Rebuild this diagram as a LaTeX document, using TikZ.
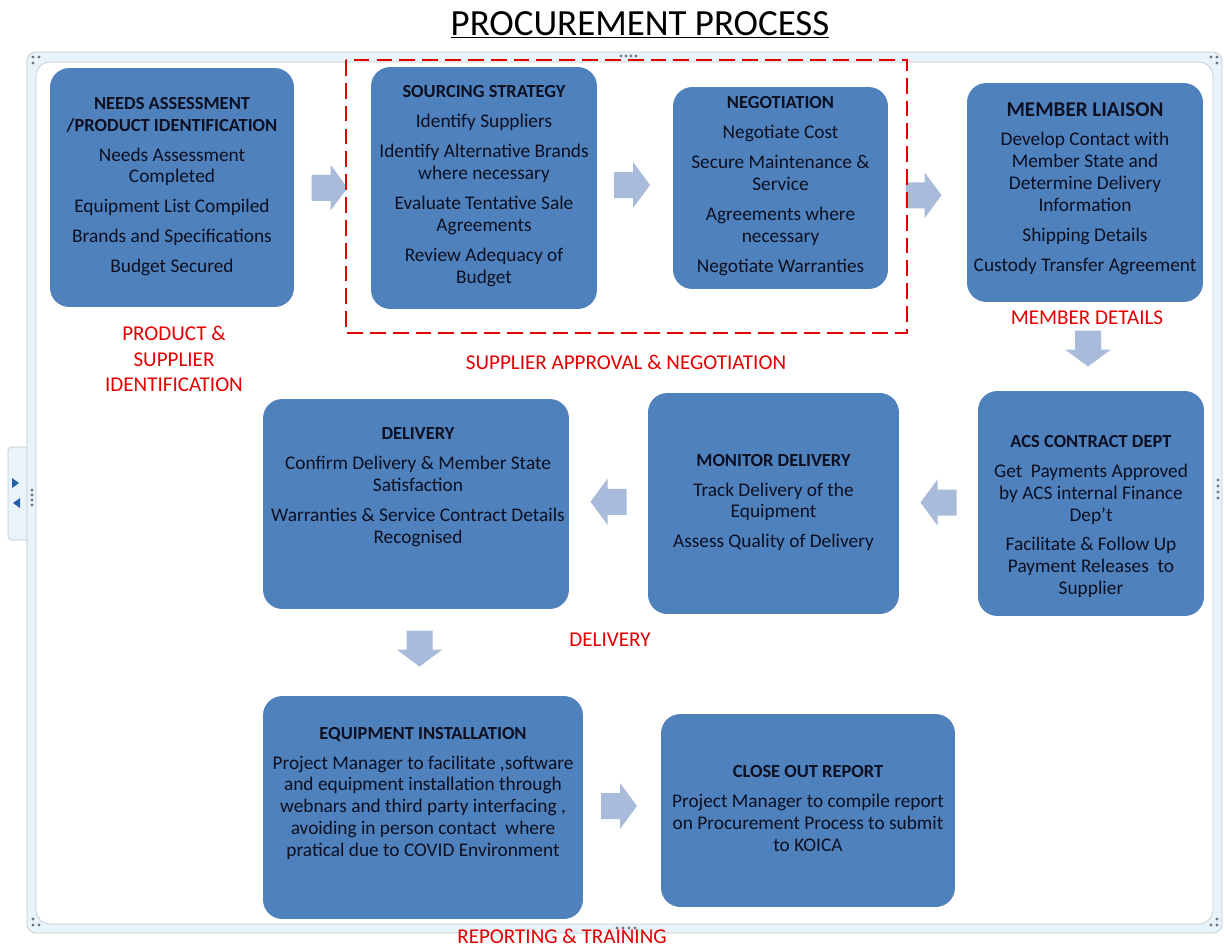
\documentclass[tikz,border=0pt]{standalone}
\usepackage{fontspec}
\setmainfont{Carlito}
\usetikzlibrary{calc}
\definecolor{boxblue}{RGB}{79,129,189}
\definecolor{arrowblue}{RGB}{168,187,218}
\definecolor{labelred}{RGB}{228,0,0}
\definecolor{boxink}{RGB}{12,16,34}
\definecolor{framegray}{RGB}{192,202,210}
\definecolor{framefill}{RGB}{232,244,250}
\definecolor{dotgray}{RGB}{110,118,128}
\definecolor{tabblue}{RGB}{38,96,168}
\def\hd#1{{\fontsize{10.5}{12.5}\selectfont\bfseries #1}}
\def\gap{\\[4.5pt]}
\tikzset{
procbox/.style={rectangle, rounded corners=11pt, fill=boxblue, inner sep=0pt},
boxtext/.style={text=boxink, align=center, inner sep=0pt, font=\fontsize{11}{12.5}\selectfont},
stagelabel/.style={text=labelred, align=center, inner sep=0pt, font=\fontsize{12}{14.7}\selectfont},
pics/blockarrow/.style={code={
\fill[arrowblue] (-18,-13) -- (1,-13) -- (1,-23) -- (18,0) -- (1,23) -- (1,13) -- (-18,13) -- cycle;}}
}

\begin{document}
\begin{tikzpicture}[x=0.02cm, y=-0.02cm]
\useasboundingbox (0,0) rectangle (1224,947);
% frame
\draw[framegray, fill=framefill, rounded corners=2pt] (27,447) -- (8,447) -- (8,540) -- (27,540);
\draw[framegray, fill=framefill, rounded corners=5pt] (27,52) rectangle (1222,933);
\draw[framegray, fill=white, rounded corners=8pt] (36,62) rectangle (1213,924);
\fill[tabblue] (12,478) -- (19,483) -- (12,488) -- cycle;
\fill[tabblue] (20,498) -- (13,503) -- (20,508) -- cycle;
\foreach \p in {(33,57),(39,57),(33,63),(1211,57),(1217,57),(1217,63),
  (1217,919),(1211,925),(1217,925),(33,919),(33,925),(39,925),
  (621,56),(626,56),(631,56),(636,56),(617,928),(623,928),(629,928),(635,928),
  (32,490),(32,495),(32,500),(32,505),(1218,480),(1218,486),(1218,492),(1218,498)}
  \fill[dotgray] \p circle (0.9pt);

\node (title) at (640,25) {\fontsize{21}{25}\selectfont\underline{PROCUREMENT PROCESS}};

% boxes
\node[procbox, minimum width=4.88cm, minimum height=4.78cm] (needs) at (172,187.5) {};
\node[procbox, minimum width=4.52cm, minimum height=4.84cm] (source) at (484,188) {};
\node[procbox, minimum width=4.30cm, minimum height=4.04cm] (nego) at (780.5,188) {};
\node[procbox, minimum width=4.72cm, minimum height=4.38cm] (member) at (1085,192.5) {};
\node[procbox, minimum width=4.52cm, minimum height=4.50cm] (acs) at (1091,503.5) {};
\node[procbox, minimum width=5.02cm, minimum height=4.42cm] (monitor) at (773.5,503.5) {};
\node[procbox, minimum width=6.12cm, minimum height=4.20cm] (deliv) at (416,504) {};
\node[procbox, minimum width=6.40cm, minimum height=4.46cm] (install) at (423,807.5) {};
\node[procbox, minimum width=5.88cm, minimum height=3.86cm] (closeout) at (808,810.5) {};

% box texts
\node[boxtext] (needs-t) at ($(needs)+(0,-1)$) {\hd{NEEDS ASSESSMENT}\\\hd{/PRODUCT IDENTIFICATION}\gap
Needs Assessment\\Completed\gap Equipment List Compiled\gap Brands and Specifications\gap Budget Secured};
\node[boxtext] (source-t) at ($(source)+(0,-2)$) {\hd{SOURCING STRATEGY}\gap Identify Suppliers\gap
Identify Alternative Brands\\where necessary\gap Evaluate Tentative Sale\\Agreements\gap Review Adequacy of\\Budget};
\node[boxtext] (nego-t) at ($(nego)+(0,-2)$) {\hd{NEGOTIATION}\gap Negotiate Cost\gap Secure Maintenance \&\\Service\gap
Agreements where\\necessary\gap Negotiate Warranties};
\node[boxtext] (member-t) at ($(member)+(0,-4)$) {{\fontsize{12}{14}\selectfont\bfseries MEMBER LIAISON}\gap
Develop Contact with\\Member State and\\Determine Delivery\\Information\gap Shipping Details\gap Custody Transfer Agreement};
\node[boxtext] (acs-t) at ($(acs)+(0,13)$) {\hd{ACS CONTRACT DEPT}\gap Get~ Payments Approved\\by ACS internal Finance\\Dep't\gap
Facilitate \& Follow Up\\Payment Releases~ to\\Supplier};
\node[boxtext] (monitor-t) at ($(monitor)+(0,-1)$) {\hd{MONITOR DELIVERY}\gap Track Delivery of the\\Equipment\gap Assess Quality of Delivery};
\node[boxtext] (deliv-t) at ($(deliv)+(2,-17)$) {\hd{DELIVERY}\gap Confirm Delivery \& Member State\\Satisfaction\gap
Warranties \& Service Contract Details\\Recognised};
\node[boxtext] (install-t) at ($(install)+(0,-14)$) {\hd{EQUIPMENT INSTALLATION}\gap Project Manager to facilitate ,software\\
and equipment installation through\\webnars and third party interfacing ,\\avoiding in person contact~ where\\pratical due to COVID Environment};
\node[boxtext] (closeout-t) at ($(closeout)+(0,-2)$) {\hd{CLOSE OUT REPORT}\gap Project Manager to compile report\\
on Procurement Process to submit\\to KOICA};

% block arrows
\pic at ($(needs.east)!.5!(source.west)+(-3,0)$) {blockarrow};
\pic at ($(source.east)!.5!(nego.west)+(-3,-3)$) {blockarrow};
\pic at ($(nego.east)!.5!(member.west)+(-4,5)$) {blockarrow};
\pic[rotate=-90] at ($(member.south)!.5!(acs.north)+(0,2)$) {blockarrow};
\pic[rotate=180] at ($(acs.west)!.5!(monitor.east)+(0,-1)$) {blockarrow};
\pic[rotate=180] at ($(monitor.west)!.5!(deliv.east)+(0,-2)$) {blockarrow};
\pic[rotate=-90] at ($(deliv.south)!.5!(install.north)+(0,-4)$) {blockarrow};
\pic at ($(install.east)!.5!(closeout.west)+(-3,-3)$) {blockarrow};

% stage grouping and labels
\draw[labelred, line width=1.2pt, dash pattern=on 9pt off 4pt] (346,60) rectangle (907,333);
\node[stagelabel] (lbl-product) at (174,359) {PRODUCT \&\\SUPPLIER\\IDENTIFICATION};
\node[stagelabel] (lbl-supplier) at (626,362) {SUPPLIER APPROVAL \& NEGOTIATION};
\node[stagelabel] (lbl-member) at (1087,318) {MEMBER DETAILS};
\node[stagelabel] (lbl-delivery) at (610,640) {DELIVERY};
\node[stagelabel] (lbl-report) at (562,936) {REPORTING \& TRAINING};
\end{tikzpicture}
\end{document}
